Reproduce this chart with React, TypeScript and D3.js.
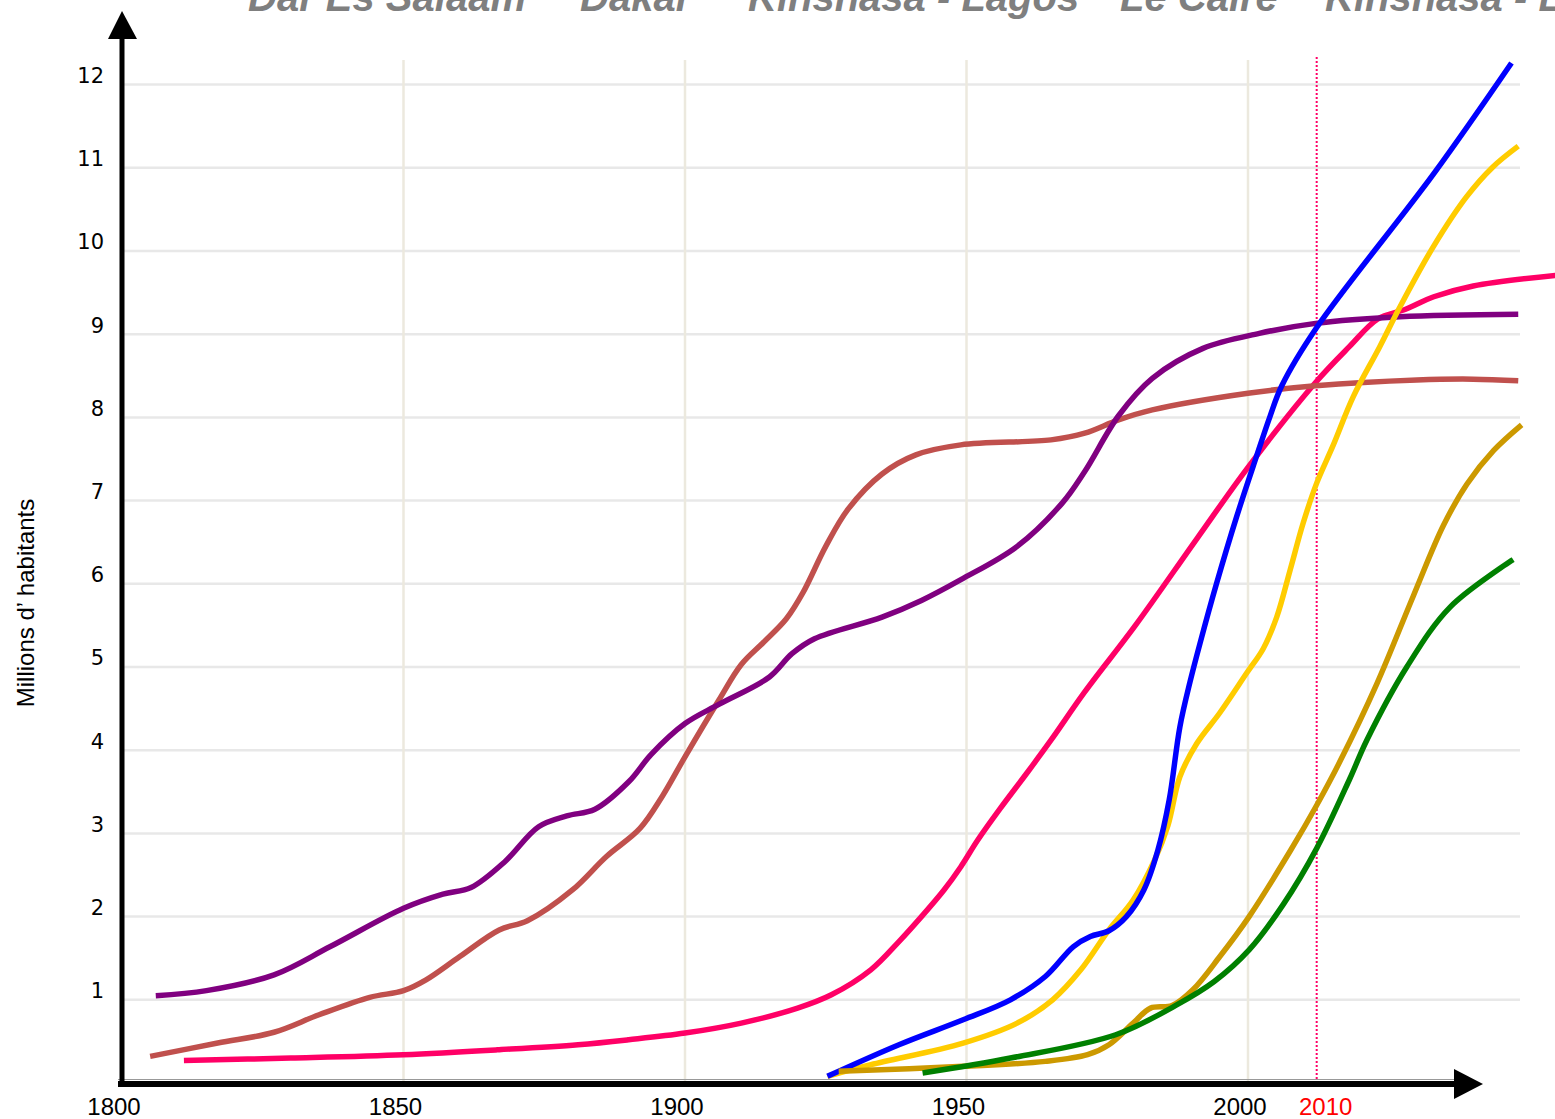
import React, { useRef, useEffect } from 'react';
import * as d3 from 'd3';

// city names shown (cut off) along the top edge
const titleLabels = ['Dar Es Salaam', 'Dakar', 'Kinshasa - Lagos', 'Le Caire', 'Kinshasa - Lagos'];
const titleX = [248, 580, 748, 1120, 1325];

const yTicks = [1, 2, 3, 4, 5, 6, 7, 8, 9, 10, 11, 12];
const xTicks = [1800, 1850, 1900, 1950, 2000];
const markerYear = 2012.2;
const markerLabel = '2010';

// series: [year, millions]
const purple = [
  [1806, 1.05], [1815, 1.11], [1827, 1.3], [1837, 1.64], [1850, 2.1], [1857, 2.27],
  [1862, 2.35], [1868, 2.66], [1874, 3.08], [1879, 3.21], [1884, 3.29], [1890, 3.62],
  [1894, 3.95], [1900, 4.32], [1906, 4.55], [1915, 4.88], [1919, 5.16], [1923, 5.34],
  [1935, 5.6], [1942, 5.8], [1949, 6.05], [1959, 6.45], [1967, 6.97], [1971, 7.35],
  [1977, 8.02], [1983, 8.47], [1992, 8.83], [2002, 9.01], [2012, 9.13],
  [2027, 9.21], [2048, 9.24],
];
const brown = [
  [1805, 0.32], [1817, 0.48], [1827, 0.61], [1835, 0.82], [1844, 1.03], [1850, 1.11],
  [1854, 1.24], [1860, 1.52], [1867, 1.84], [1872, 1.95], [1880, 2.32], [1886, 2.72],
  [1892, 3.06], [1896, 3.45], [1900, 3.92], [1906, 4.6], [1910, 5.03], [1914, 5.3],
  [1918, 5.58], [1921, 5.9], [1925, 6.45], [1929, 6.9], [1935, 7.32], [1941, 7.55],
  [1949, 7.67], [1965, 7.73], [1971, 7.81], [1977, 7.97], [1983, 8.09],
  [2000, 8.29], [2012, 8.38], [2030, 8.45], [2040, 8.46], [2048, 8.44],
];
const pink = [
  [1811, 0.27], [1830, 0.3], [1850, 0.34], [1867, 0.4], [1881, 0.46], [1890, 0.52],
  [1900, 0.6], [1910, 0.72], [1920, 0.9], [1926, 1.06], [1933, 1.36], [1938, 1.7],
  [1942, 2.0], [1946, 2.32], [1949, 2.6], [1952, 2.92], [1956, 3.3], [1961, 3.75],
  [1965, 4.12], [1971, 4.7], [1980, 5.5], [1991, 6.55], [2000, 7.4], [2012, 8.42],
  [2018, 8.85], [2023, 9.18], [2028, 9.3], [2033, 9.45], [2040, 9.58], [2055, 9.71],
];
const blue = [
  [1925.3, 0.08], [1938, 0.46], [1949.4, 0.76], [1957.8, 1.0], [1964, 1.28], [1969, 1.64],
  [1972, 1.76], [1975.3, 1.83], [1978.4, 2.0], [1981.5, 2.32], [1984, 2.8], [1986, 3.4],
  [1987.9, 4.28], [1989.7, 4.82], [1991.5, 5.29], [1994.4, 6.0], [1998, 6.81],
  [2001.5, 7.53], [2003.9, 8.01], [2006, 8.38], [2012.2, 9.08],
  [2033, 10.93], [2046.8, 12.26],
];
const yellow = [
  [1925.3, 0.08], [1933, 0.22], [1949.4, 0.48], [1959, 0.72], [1965.3, 1.0], [1970.3, 1.36],
  [1975.3, 1.84], [1979.6, 2.2], [1983.4, 2.68], [1985.8, 3.1], [1987.9, 3.68],
  [1990.9, 4.08], [1995, 4.45], [1999.8, 4.93], [2002.7, 5.22], [2005.1, 5.6],
  [2007.5, 6.17], [2009.8, 6.73], [2012.2, 7.21], [2015.1, 7.66], [2018.7, 8.25],
  [2023.4, 8.85], [2027, 9.33], [2032.9, 10.05], [2038.8, 10.65], [2043.5, 11.01],
  [2048, 11.26],
];
const gold = [
  [1927.3, 0.14], [1949.4, 0.2], [1964, 0.26], [1971.5, 0.34], [1975.3, 0.46],
  [1979.6, 0.72], [1982.7, 0.9], [1986.5, 0.93], [1990.2, 1.12], [1995, 1.52],
  [2000.2, 2.0], [2007.6, 2.8], [2012.3, 3.35], [2016.3, 3.86], [2022.9, 4.8],
  [2029.4, 5.86], [2034.7, 6.7], [2038.9, 7.2], [2043.6, 7.6], [2048.6, 7.91],
];
const green = [
  [1942.2, 0.12], [1957.8, 0.3], [1976.5, 0.58], [1987.1, 0.93], [1994, 1.22],
  [2000.2, 1.6], [2006.3, 2.15], [2012.2, 2.82], [2018.1, 3.66], [2021.1, 4.12],
  [2028.2, 5.0], [2035.9, 5.72], [2047.1, 6.29],
];

// drawing order, bottom to top
const series = [
  { data: pink, color: '#ff0066' },
  { data: brown, color: '#c0504d' },
  { data: purple, color: '#800080' },
  { data: yellow, color: '#ffcc00' },
  { data: blue, color: '#0000ff' },
  { data: gold, color: '#cc9900' },
  { data: green, color: '#008000' },
];

const W = 1555;
const H = 1119;

const App = () => {
  const chartRef = useRef<SVGSVGElement>(null);

  useEffect(() => {
    const svg = d3.select(chartRef.current);
    svg.selectAll('*').remove();

    const x = d3.scaleLinear().domain([1800, 2000]).range([122, 1248]);
    const y = d3.scaleLinear().domain([0, 12]).range([1083, 84.6]);

    // title labels (cut by the top edge, as in the original)
    svg
      .append('g')
      .selectAll('text')
      .data(titleLabels)
      .enter()
      .append('text')
      .attr('x', (d, i) => titleX[i])
      .attr('y', 11)
      .attr('font-family', "'Liberation Sans', Arial, sans-serif")
      .attr('font-size', 40)
      .attr('font-weight', 'bold')
      .attr('font-style', 'italic')
      .attr('fill', '#7f7f7f')
      .text(d => d);

    // grid
    svg
      .append('g')
      .selectAll('line')
      .data(yTicks)
      .enter()
      .append('line')
      .attr('x1', x(1800))
      .attr('x2', 1520)
      .attr('y1', d => y(d))
      .attr('y2', d => y(d))
      .attr('stroke', '#e8e8e8')
      .attr('stroke-width', 2.5);

    svg
      .append('g')
      .selectAll('line')
      .data(xTicks.slice(1))
      .enter()
      .append('line')
      .attr('x1', d => x(d))
      .attr('x2', d => x(d))
      .attr('y1', 60)
      .attr('y2', y(0))
      .attr('stroke', '#ece9de')
      .attr('stroke-width', 2.5);

    // 2010 marker
    svg
      .append('line')
      .attr('x1', x(markerYear))
      .attr('x2', x(markerYear))
      .attr('y1', 57)
      .attr('y2', y(0))
      .attr('stroke', '#ff0066')
      .attr('stroke-width', 2)
      .attr('stroke-dasharray', '2,2');

    // series
    const line = d3
      .line<number[]>()
      .x(d => x(d[0]))
      .y(d => y(d[1]))
      .curve(d3.curveCatmullRom.alpha(0.5));

    svg
      .append('g')
      .selectAll('path')
      .data(series)
      .enter()
      .append('path')
      .attr('d', d => line(d.data))
      .attr('fill', 'none')
      .attr('stroke', d => d.color)
      .attr('stroke-width', 5.5)
      .attr('stroke-linecap', 'butt')
      .attr('stroke-linejoin', 'round');

    // axes with arrows
    svg
      .append('line')
      .attr('x1', 118)
      .attr('x2', 1456)
      .attr('y1', y(0) - 3.5)
      .attr('y2', y(0) - 3.5)
      .attr('stroke', '#999')
      .attr('stroke-width', 1);
    svg
      .append('line')
      .attr('x1', 118)
      .attr('x2', 1456)
      .attr('y1', y(0) + 1)
      .attr('y2', y(0) + 1)
      .attr('stroke', '#000')
      .attr('stroke-width', 6);
    svg
      .append('path')
      .attr('d', 'M1454,1069L1483,1084L1454,1099Z')
      .attr('fill', '#000');

    svg
      .append('line')
      .attr('x1', x(1800))
      .attr('x2', x(1800))
      .attr('y1', y(0) + 4)
      .attr('y2', 38)
      .attr('stroke', '#000')
      .attr('stroke-width', 5);
    svg
      .append('path')
      .attr('d', 'M108,39L122,11L137,39Z')
      .attr('fill', '#000');

    // tick labels
    svg
      .append('g')
      .selectAll('text')
      .data(yTicks)
      .enter()
      .append('text')
      .attr('x', 104)
      .attr('y', d => y(d) - 9)
      .attr('dy', '0.35em')
      .attr('text-anchor', 'end')
      .attr('font-family', "'DejaVu Sans', Verdana, sans-serif")
      .attr('font-size', 21)
      .attr('fill', '#000')
      .text(d => d);

    svg
      .append('g')
      .selectAll('text')
      .data(xTicks)
      .enter()
      .append('text')
      .attr('x', d => x(d) - 8)
      .attr('y', 1115)
      .attr('text-anchor', 'middle')
      .attr('font-family', "'Liberation Sans', Arial, sans-serif")
      .attr('font-size', 24)
      .attr('fill', '#000')
      .text(d => d);

    svg
      .append('text')
      .attr('x', x(markerYear) + 9)
      .attr('y', 1115)
      .attr('text-anchor', 'middle')
      .attr('font-family', "'Liberation Sans', Arial, sans-serif")
      .attr('font-size', 24)
      .attr('fill', '#ff0000')
      .text(markerLabel);

    svg
      .append('text')
      .attr('transform', 'translate(34,603) rotate(-90)')
      .attr('text-anchor', 'middle')
      .attr('font-family', "'Liberation Sans', Arial, sans-serif")
      .attr('font-size', 24)
      .attr('fill', '#000')
      .text('Millions d\u2019 habitants');
  }, []);

  return (
    <svg
      ref={chartRef}
      width={W}
      height={H}
      style={{ position: 'absolute', left: 0, top: 0, display: 'block', background: '#fff' }}
    />
  );
};

export default App;
